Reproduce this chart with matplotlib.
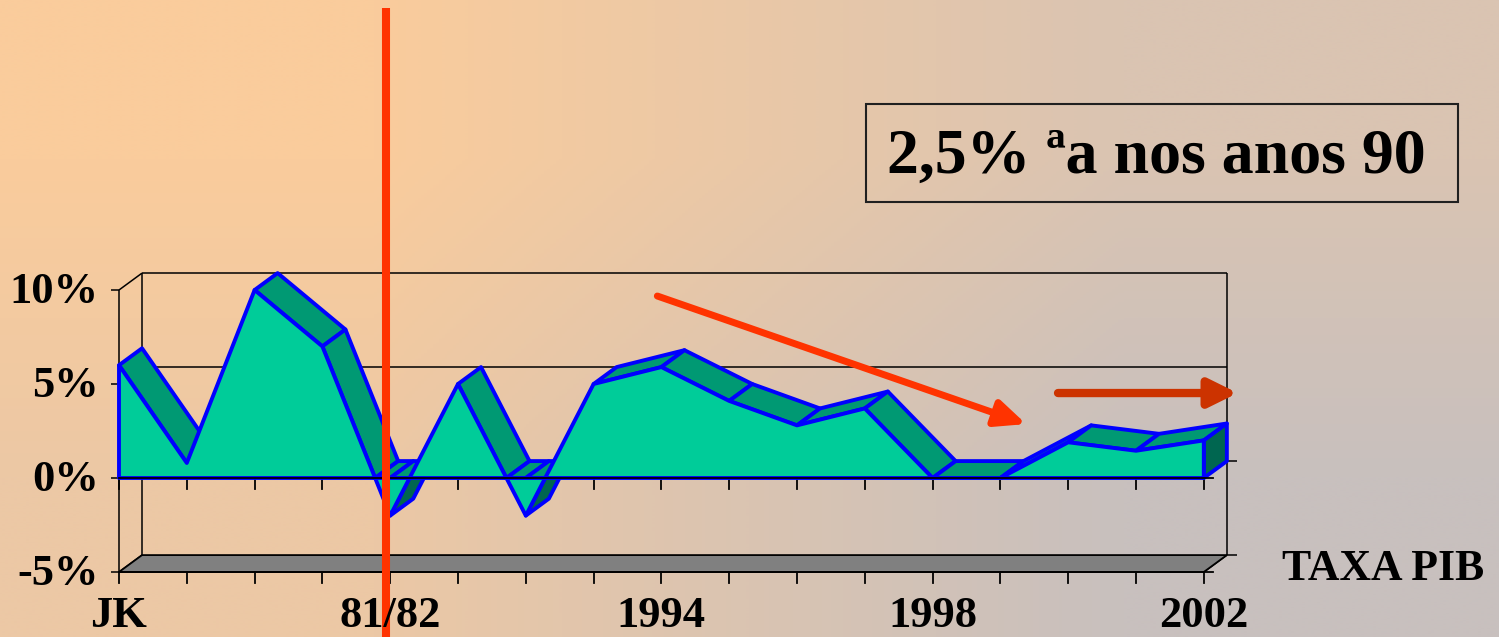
import numpy as np
import matplotlib.pyplot as plt
from matplotlib.patches import Polygon, Rectangle

# GDP growth rate per period (%)
periods = ['JK', '', '', '', '81/82', '', '', '', '1994', '', '', '',
           '1998', '', '', '', '2002']
taxa_pib = [6.0, 0.8, 10.0, 7.0, -2.0, 5.0, -2.0, 5.0, 5.9, 4.1, 2.8, 3.7,
            0.0, 0.0, 1.9, 1.45, 2.0]
y_ticks = [-5, 0, 5, 10]
y_labels = ['-5%', '0%', '5%', '10%']
series_name = 'TAXA PIB'
box_text = '2,5% \u00aaa nos anos 90'

# fake 3D depth offset (category units, % units)
DX, DY = 0.34, 0.9

FRONT = '#00CC99'
TOP = '#009973'
SIDE = '#006650'
EDGE = '#0000FF'
serif = ['Liberation Serif', 'DejaVu Serif']

fig = plt.figure(figsize=(14.99, 6.37), dpi=100)
ax = fig.add_axes([0, 0, 1, 1])
ax.set_xlim(-1.755, 20.354)
ax.set_ylim(-8.457, 25.426)
ax.axis('off')

# background gradient
corners = np.array([[[250, 204, 156], [218, 196, 178]],
                    [[236, 200, 165], [200, 192, 190]]]) / 255.0
ax.imshow(corners, extent=[-1.755, 20.354, -8.457, 25.426], aspect='auto',
          interpolation='bilinear', zorder=0)

n = len(taxa_pib)
x = np.arange(n, dtype=float)
v = np.array(taxa_pib)

# walls, gridlines, floor
lk = dict(color='black', lw=1.1, zorder=1, solid_capstyle='butt')
for yv in y_ticks[1:]:
    ax.plot([DX, n - 1 + DX], [yv + DY, yv + DY], **lk)
for yv in y_ticks:
    ax.plot([0, DX], [yv, yv + DY], **lk)
    ax.plot([-0.12, 0], [yv, yv], **lk)
ax.plot([DX, DX], [-5 + DY, 10 + DY], **lk)
ax.plot([n - 1 + DX, n - 1 + DX], [-5 + DY, 10 + DY], **lk)
ax.plot([0, 0], [-5, 10], **lk)
ax.add_patch(Polygon([(0, -5), (n - 1, -5), (n - 1 + DX, -5 + DY), (DX, -5 + DY)],
                     closed=True, facecolor='#808080', edgecolor='black',
                     lw=1.3, zorder=2))
for yb in (0, -5):
    ax.plot([0, n - 1 + 0.13], [yb, yb], color='black', lw=1.3, zorder=5)
    ax.plot([n - 1, n - 1 + DX], [yb, yb + DY], **lk)
    ax.plot([n - 1 + DX, n - 1 + DX + 0.15], [yb + DY, yb + DY], **lk)
    for i in range(n):
        ax.plot([i, i], [yb, yb - 0.6], color='black', lw=1.3, zorder=2)

# area with zero crossings inserted
xs, vs = [x[0]], [v[0]]
for i in range(n - 1):
    if v[i] * v[i + 1] < 0:
        t = v[i] / (v[i] - v[i + 1])
        xs.append(x[i] + t)
        vs.append(0.0)
    xs.append(x[i + 1])
    vs.append(v[i + 1])
xs = np.array(xs)
vs = np.array(vs)
top = np.maximum(vs, 0)
bot = np.minimum(vs, 0)

for j in range(len(xs) - 1):
    dx = xs[j + 1] - xs[j]
    for line, sign, col in ((top, 1, TOP), (bot, -1, SIDE)):
        cr = dx * DY - (line[j + 1] - line[j]) * DX
        if cr * sign > 0:
            quad = [(xs[j], line[j]), (xs[j + 1], line[j + 1]),
                    (xs[j + 1] + DX, line[j + 1] + DY), (xs[j] + DX, line[j] + DY)]
            ax.add_patch(Polygon(quad, closed=True, facecolor=col,
                                 edgecolor=EDGE, lw=2.8, zorder=3,
                                 joinstyle='round'))

# right end face
ax.add_patch(Polygon([(x[-1], 0), (x[-1], v[-1]), (x[-1] + DX, v[-1] + DY),
                      (x[-1] + DX, DY)], closed=True, facecolor=SIDE,
                     edgecolor=EDGE, lw=2.8, zorder=4, joinstyle='round'))
# front face
front = [(xs[0], 0)] + list(zip(xs, vs)) + [(xs[-1], 0)]
ax.add_patch(Polygon(front, closed=True, facecolor=FRONT, edgecolor=EDGE,
                     lw=2.8, zorder=4, joinstyle='round'))

# labels
for yv, lab in zip(y_ticks, y_labels):
    ax.text(-0.3, yv - 0.1, lab, ha='right', va='center', fontsize=32,
            fontweight='bold', family=serif, zorder=7)
for i, lab in enumerate(periods):
    if lab:
        ax.text(i, -7.9, lab, ha='center', va='baseline', fontsize=32,
                fontweight='bold', family=serif, zorder=7)
ax.text(17.15, -5.43, series_name, ha='left', va='baseline', fontsize=31.5,
        fontweight='bold', family=serif, zorder=7)

# annotations
ax.plot([3.94, 3.94], [-8.457, 25.0], color='#FF3300', lw=5.8, zorder=6,
        solid_capstyle='butt')
ax.annotate('', xy=(13.38, 2.87), xytext=(7.94, 9.68),
            arrowprops=dict(arrowstyle='-|>,head_length=0.9,head_width=0.4',
                            mutation_scale=20, color='#FF3300', lw=5,
                            shrinkA=0, shrinkB=0), zorder=6)
ax.annotate('', xy=(16.5, 4.52), xytext=(13.85, 4.52),
            arrowprops=dict(arrowstyle='-|>,head_length=0.85,head_width=0.42',
                            mutation_scale=20, color='#CC3300', lw=6,
                            shrinkA=0, shrinkB=0), zorder=6)
ax.add_patch(Rectangle((11.02, 14.68), 8.73, 5.21, facecolor='none',
                       edgecolor='#202020', lw=1.5, zorder=6))
ax.text(11.33, 16.22, box_text, ha='left', va='baseline', fontsize=46,
        fontweight='bold', family=serif, zorder=7)

fig.savefig('out.png', dpi=100)
